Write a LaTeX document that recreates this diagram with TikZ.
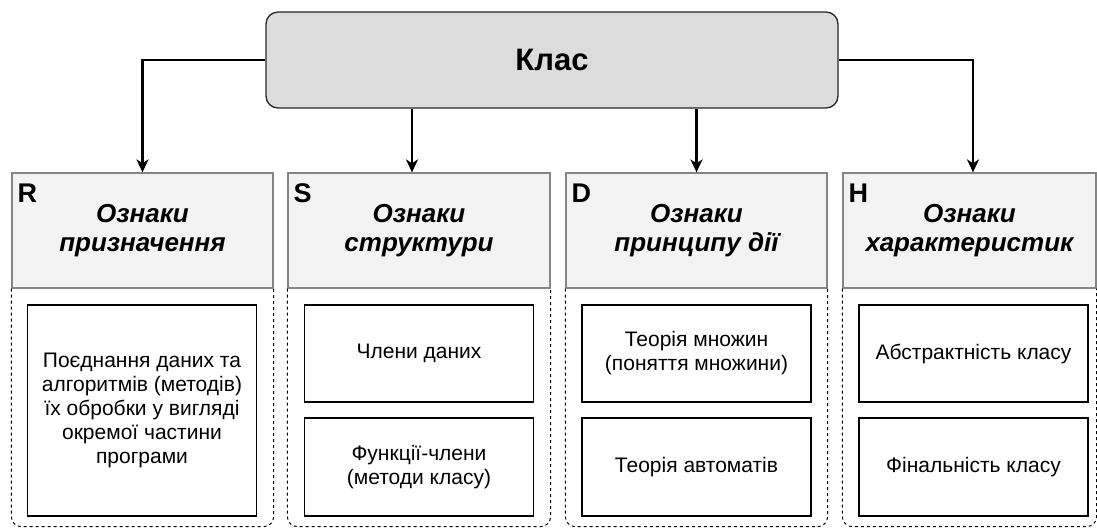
\documentclass[tikz,border=0pt]{standalone}
\usepackage{fontspec}
\setmainfont{Liberation Sans}
\usetikzlibrary{arrows.meta}
\definecolor{klasgray}{HTML}{DCDCDC}
\definecolor{headgray}{HTML}{F3F3F3}
\definecolor{headline}{HTML}{858585}

\begin{document}
\begin{tikzpicture}[x=1pt,y=-1pt,
    klasbox/.style={draw=black!85,fill=klasgray,line width=1.3pt,rounded corners=12pt,
      minimum width=572pt,minimum height=96pt,font=\bfseries\fontsize{31}{34}\selectfont},
    headbox/.style={draw=headline,fill=headgray,line width=1.3pt,minimum height=115pt,
      align=center,font=\bfseries\itshape\fontsize{26}{29.5}\selectfont},
    tag/.style={anchor=north west,inner sep=0pt,font=\bfseries\fontsize{27}{27}\selectfont},
    itembox/.style={draw,line width=1.6pt,fill=white,minimum width=229pt,
      align=center,font=\fontsize{21}{24}\selectfont},
    grp/.style={draw,dash pattern=on 3pt off 3pt,line width=1pt,rounded corners=10pt},
    link/.style={line width=2.6pt,-{Stealth[length=13pt,width=12pt,inset=4pt]}}]
  \useasboundingbox (0,0) rectangle (1097,531);
  \node[klasbox] (klas) at (552,60) {Клас};
  % headers
  \node[headbox,minimum width=261pt] (hR) at (142.5,230.5) {Ознаки\\призначення};
  \node[headbox,minimum width=262pt] (hS) at (419,230.5) {Ознаки\\структури};
  \node[headbox,minimum width=261pt] (hD) at (696.5,230.5) {Ознаки\\принципу дії};
  \node[headbox,minimum width=253pt] (hH) at (969.5,230.5) {Ознаки\\характеристик};
  \node[tag] (tR) at ([shift={(6,11)}]hR.north west) {R};
  \node[tag] (tS) at ([shift={(6,11)}]hS.north west) {S};
  \node[tag] (tD) at ([shift={(6,11)}]hD.north west) {D};
  \node[tag] (tH) at ([shift={(6,11)}]hH.north west) {H};
  % dashed groups
  \foreach \h in {hR,hS,hD,hH}
    \draw[grp] (\h.south west) -- ++(0,238) -- ([yshift=-238pt]\h.south east) -- (\h.south east);
  % items
  \node[itembox,minimum height=211pt] (rA) at (142,410.5)
    {Поєднання даних та\\алгоритмів (методів)\\їх обробки у вигляді\\окремої частини\\програми};
  \node[itembox,minimum height=97pt] (sA) at (419,353.5) {Члени даних};
  \node[itembox,minimum height=98pt] (sB) at (419,467) {Функції-члени\\(методи класу)};
  \node[itembox,minimum height=97pt] (dA) at (696.5,353.5) {Теорія множин\\(поняття множини)};
  \node[itembox,minimum height=98pt] (dB) at (696.5,467) {Теорія автоматів};
  \node[itembox,minimum height=97pt] (hA) at (973.5,353.5) {Абстрактність класу};
  \node[itembox,minimum height=98pt] (hB) at (973.5,467) {Фінальність класу};
  % arrows
  \draw[link] (klas.west) -| (hR.north);
  \draw[link] (klas.east) -| ([xshift=3.5pt]hH.north);
  \draw[link] ([xshift=-140pt]klas.south) -- ([xshift=-140pt]klas.south |- hS.north);
  \draw[link] (klas.south -| hD.north) -- (hD.north);
\end{tikzpicture}
\end{document}
